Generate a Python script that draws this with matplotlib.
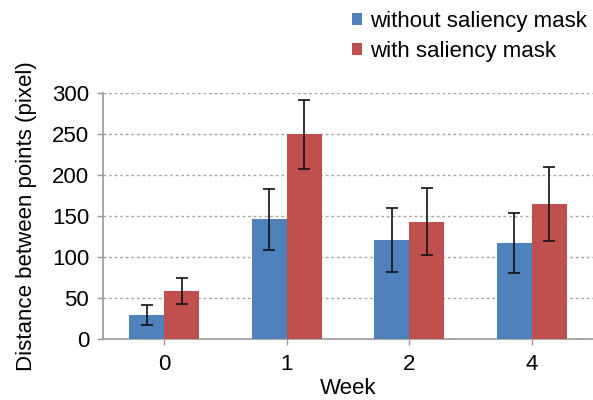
import numpy as np
import matplotlib.pyplot as plt

plt.rcParams['font.family'] = ['Liberation Sans', 'DejaVu Sans']

weeks = ['0', '1', '2', '4']
without_mask = [29, 146, 121, 117]
without_err = [12.5, 37, 39, 37]
with_mask = [58, 250, 143, 165]
with_err = [16, 42, 41, 45]

blue = '#4F81BD'
red = '#C0504D'

fig = plt.figure(figsize=(5.93, 4.0), dpi=100)
ax = fig.add_axes([0.174, 0.153, 0.826, 0.614])

x = np.arange(len(weeks))
w = 0.286
err_kw = dict(ecolor='#111111', elinewidth=1.2, capsize=4, capthick=1.2)
ax.bar(x - w / 2, without_mask, w, yerr=without_err, color=blue,
       label='without saliency mask', error_kw=err_kw, zorder=3)
ax.bar(x + w / 2, with_mask, w, yerr=with_err, color=red,
       label='with saliency mask', error_kw=err_kw, zorder=3)

ax.set_xlim(-0.5, len(weeks) - 0.5)
ax.set_ylim(0, 300)
ax.set_yticks(range(0, 301, 50))
ax.set_xticks(x)
ax.set_xticklabels(weeks)
ax.yaxis.grid(True, linestyle=(0, (2, 2)), color='#a6a6a6', linewidth=1, zorder=0)

for s in ['top', 'right']:
    ax.spines[s].set_visible(False)
for s in ['left', 'bottom']:
    ax.spines[s].set_color('#999999')
    ax.spines[s].set_linewidth(1.2)
ax.tick_params(axis='both', colors='#999999', labelcolor='black', labelsize=16,
               length=4, width=1)
ax.tick_params(axis='y', pad=6)
ax.tick_params(axis='x', pad=7)

ax.set_xlabel('Week', fontsize=16, labelpad=2)
ax.set_ylabel('Distance between points (pixel)', fontsize=16, labelpad=11)

fig.legend(loc='upper left', bbox_to_anchor=(0.56, 1.022), frameon=False,
           fontsize=16, handlelength=0.45, handleheight=0.45, handletextpad=0.35,
           labelspacing=0.4)

fig.savefig('out.png', dpi=100)
